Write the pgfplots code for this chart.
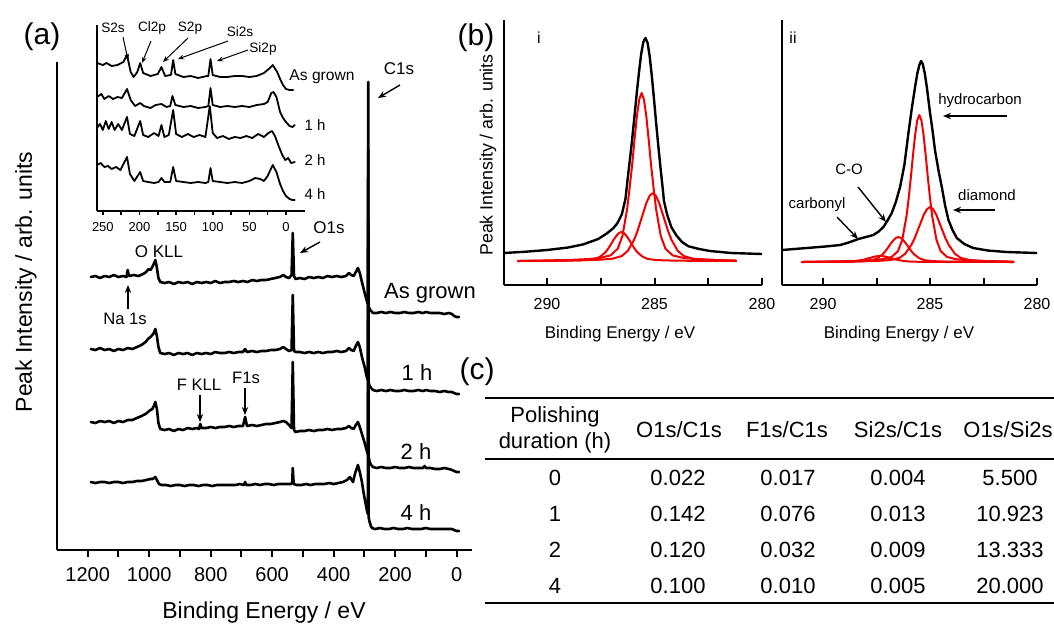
\documentclass[border=0pt]{standalone}
\usepackage{pgfplots}
\pgfplotsset{compat=1.18}
\usepackage{fontspec}
\setmainfont{Liberation Sans}
\usetikzlibrary{arrows.meta}
\newcommand{\fs}[1]{\fontsize{#1}{#1}\selectfont}
\definecolor{fitred}{RGB}{240,0,0}
\pgfplotsset{
  base/.style={scale only axis, x dir=reverse,
    axis x line*=bottom, axis y line*=left,
    axis line style={line width=1.2pt,-},
    ytick=\empty, tick style={black,line width=1pt},
    /pgf/number format/assume math mode=true, /pgf/number format/1000 sep={},
    every axis plot/.append style={line join=round, line cap=round}},
}
\begin{document}
\begin{tikzpicture}
\useasboundingbox (0,0) rectangle (527pt,-311.5pt);
% ---------------- panel (a) main
\begin{axis}[base, at={(28.5pt,-275pt)}, anchor=south west,
  width=207.5pt, height=244pt, xmin=-50, xmax=1300, ymin=0, ymax=488,
  xtick={0,200,...,1200}, minor xtick={100,300,...,1100},
  tick align=outside, major tick length=3.5pt, minor tick length=3.5pt,
  xticklabel style={font=\fs{10}, yshift=-1.5pt}]
\addplot[black, no markers, line width=1.3pt] coordinates {(1190,273) (1175,274) (1160,272) (1145,274) (1130,273) (1115,275) (1100,273) (1085,274) (1074,273) (1070,280) (1066,274) (1050,275) (1035,274) (1020,276) (1010,278) (1002,281) (996,280) (990,283) (984,287) (980,290) (976,284) (970,272) (964,268) (950,267) (935,268) (920,266) (905,268) (890,267) (875,268) (860,266) (845,268) (830,267) (815,268) (800,267) (785,269) (770,267) (755,268) (740,268) (725,269) (710,268) (695,269) (680,268) (665,270) (650,269) (635,270) (620,270) (605,271) (590,272) (575,273) (564,275) (555,273) (545,272) (537,275) (533,317) (529,274) (524,271) (510,272) (495,271) (480,273) (465,272) (450,273) (435,272) (420,274) (405,273) (390,274) (375,273) (360,274) (350,277) (343,275) (335,274) (328,278) (321,282) (315,277) (308,268) (300,258) (293,250) (289,246) (287.5,468) (286.5,244) (283,241) (278,239) (272,237) (260,237) (245,238) (230,237) (215,238) (200,237) (185,237) (170,238) (155,237) (140,237) (125,238) (110,237) (100,238) (85,237) (70,237) (55,237) (40,236) (25,237) (15,236) (8,234) (0,233) (-8,233)};
\addplot[black, no markers, line width=1.3pt] coordinates {(1190,201) (1175,200) (1160,202) (1145,200) (1130,201) (1115,199) (1100,201) (1085,200) (1070,202) (1055,201) (1040,203) (1025,205) (1012,208) (1004,211) (996,213) (990,215) (985,217) (980,221) (975,214) (970,203) (964,197) (950,196) (935,197) (920,195) (905,197) (890,196) (875,197) (860,195) (845,197) (830,196) (815,197) (800,196) (785,198) (770,197) (755,197) (740,198) (725,197) (710,198) (695,198) (688,201) (682,198) (665,199) (650,198) (635,199) (620,199) (605,200) (590,200) (575,201) (564,203) (555,201) (545,199) (537,200) (533,255) (529,199) (524,198) (510,198) (495,197) (480,198) (465,197) (450,198) (435,197) (420,198) (405,198) (390,199) (375,198) (360,199) (350,202) (343,200) (335,199) (328,204) (321,208) (315,203) (308,193) (300,184) (293,174) (289,170) (287.5,400) (286.5,168) (283,164) (278,162) (272,160) (260,159) (245,160) (230,159) (215,160) (200,159) (185,159) (170,160) (155,159) (140,159) (125,160) (110,159) (100,160) (85,159) (70,159) (55,158) (40,159) (25,158) (15,158) (8,157) (0,156) (-8,156)};
\addplot[black, no markers, line width=1.3pt] coordinates {(1190,128) (1175,127) (1160,129) (1145,128) (1130,129) (1115,127) (1100,129) (1085,128) (1070,130) (1055,130) (1040,132) (1025,134) (1012,136) (1004,138) (996,140) (990,141) (985,144) (980,148) (975,141) (970,127) (964,121) (950,120) (935,121) (920,119) (905,121) (890,120) (875,122) (860,121) (845,122) (838,121) (834,126) (830,122) (815,122) (800,123) (785,122) (770,123) (755,123) (740,124) (725,123) (710,124) (695,124) (688,133) (682,124) (665,125) (650,124) (635,125) (620,126) (605,126) (590,127) (575,128) (564,129) (555,128) (545,125) (537,122) (533,188) (529,120) (524,118) (510,119) (495,119) (480,120) (465,119) (450,120) (435,120) (420,121) (405,120) (390,121) (375,121) (360,122) (350,124) (343,122) (335,121) (328,125) (321,128) (315,123) (308,116) (300,108) (293,100) (289,96) (287.5,330) (286.5,94) (283,88) (278,85) (272,83) (260,82) (245,83) (230,82) (215,82) (200,83) (185,82) (170,82) (155,83) (140,82) (125,82) (110,82) (104,84) (100,82) (85,82) (70,81) (55,81) (40,82) (25,81) (15,80) (8,79) (0,78) (-8,78)};
\addplot[black, no markers, line width=1.3pt] coordinates {(1190,68) (1175,67) (1160,68) (1145,68) (1130,67) (1115,68) (1100,68) (1085,67) (1070,68) (1055,68) (1040,69) (1025,69) (1010,70) (996,71) (990,71) (984,72) (980,73) (975,70) (968,66) (960,65) (945,65) (930,64) (915,65) (900,65) (885,64) (870,65) (855,65) (840,64) (825,65) (810,65) (795,64) (780,65) (765,65) (750,65) (735,65) (720,65) (705,66) (692,65) (688,68) (684,65) (670,65) (655,66) (640,65) (625,66) (610,66) (595,65) (580,66) (565,66) (550,66) (540,66) (535,67) (533,82) (530,66) (520,65) (505,65) (490,66) (475,65) (460,66) (445,66) (430,66) (415,67) (400,66) (385,67) (370,68) (357,70) (347,73) (337,68) (330,77) (321,85) (315,78) (308,68) (303,58) (297,48) (292,40) (289,36) (287.5,250) (286.5,33) (283,28) (279,24) (275,22) (265,21) (250,22) (235,21) (220,21) (205,22) (190,21) (175,21) (160,22) (145,21) (130,21) (115,21) (100,22) (85,21) (70,21) (55,21) (40,21) (25,21) (15,21) (8,20) (0,19) (-8,19)};
\end{axis}
% ---------------- inset
\begin{axis}[base, at={(48.5pt,-105.5pt)}, anchor=south west,
  width=104pt, height=93pt, xmin=-26, xmax=258, ymin=0, ymax=186,
  axis line style={line width=1pt,-},
  xtick={0,50,...,250}, minor xtick={25,75,...,225},
  tick align=outside, major tick length=2pt, minor tick length=2pt,
  tick style={black,line width=0.8pt},
  xticklabel style={font=\fs{6.5}}]
\addplot[black, no markers, line width=0.9pt] coordinates {(258,148) (250,146) (245,148) (238,145) (230,146) (222,149) (217,156) (212,139) (208,134) (203,139) (199,148) (195,138) (185,135) (175,137) (170,144) (165,135) (158,136) (157,136) (154,151) (151,137) (140,134) (130,135) (120,133) (108,135) (106,135) (103,152) (100,136) (90,134) (80,134) (70,135) (60,135) (50,134) (40,135) (30,138) (22,143) (18,146) (12,139) (8,132) (4,126) (0,122) (-5,121) (-10,121)};
\addplot[black, no markers, line width=0.9pt] coordinates {(258,114) (252,117) (248,112) (242,115) (236,112) (230,114) (224,113) (217,122) (212,111) (206,105) (199,108) (194,105) (185,103) (178,106) (170,107) (163,104) (158,105) (155,115) (151,106) (140,104) (130,105) (120,103) (110,104) (106,105) (103,123) (100,106) (90,104) (80,105) (70,104) (60,105) (50,104) (40,106) (30,107) (25,109) (20,118) (17,119) (13,114) (8,99) (4,93) (0,89) (-5,85) (-9,84) (-12,86)};
\addplot[black, no markers, line width=0.9pt] coordinates {(258,83) (254,87) (250,81) (246,90) (242,82) (238,89) (234,81) (229,87) (224,81) (217,94) (213,77) (207,75) (199,90) (195,76) (188,74) (180,78) (174,75) (170,86) (166,74) (160,76) (154,101) (150,77) (142,74) (134,77) (126,74) (118,76) (110,74) (104,105) (100,78) (94,73) (86,75) (78,72) (70,74) (62,73) (54,75) (46,73) (38,77) (30,74) (24,78) (19,80) (15,75) (10,65) (5,56) (1,51) (-3,53) (-7,48) (-12,49)};
\addplot[black, no markers, line width=0.9pt] coordinates {(258,46) (253,48) (248,44) (243,45) (238,42) (232,44) (226,41) (217,54) (213,37) (207,30) (199,39) (195,30) (188,29) (180,28) (174,29) (170,33) (166,29) (158,29) (154,44) (150,30) (140,29) (130,28) (120,29) (110,28) (106,29) (103,43) (100,30) (90,29) (80,28) (70,29) (60,28) (50,30) (42,33) (35,32) (30,30) (25,35) (20,43) (18,46) (13,39) (8,27) (4,20) (0,15) (-5,12) (-9,11) (-12,11)};
\end{axis}
% ---------------- panel (b) i
\begin{axis}[base, at={(252pt,-142.5pt)}, anchor=south west,
  width=129pt, height=132.5pt, xmin=280, xmax=292, ymin=0, ymax=265,
  xtick={280,285,290}, minor xtick={282.5,287.5},
  tick align=inside, major tick length=3.5pt, minor tick length=3.5pt,
  xticklabel style={font=\fs{8}, yshift=-3pt}]
\addplot[fitred, no markers, line width=1pt] coordinates {(281.2,24) (282.27,25.1) (283.16,26) (283.71,27.3) (284.16,29.7) (284.49,36.3) (284.71,49.2) (284.93,76.4) (285.04,96.6) (285.16,120.1) (285.27,145.3) (285.38,168.6) (285.49,185.6) (285.6,192) (285.71,185.6) (285.82,168.6) (285.93,145.3) (286.04,120.1) (286.16,96.6) (286.27,76.4) (286.49,49.2) (286.71,36.3) (287.04,29.7) (287.49,27.3) (288.04,26) (288.93,25.1) (291.34,24)};
\addplot[fitred, no markers, line width=1pt] coordinates {(281.2,24.5) (281.90,24.8) (282.62,25.3) (283.20,26.3) (283.64,29) (283.92,34.2) (284.21,45.2) (284.36,53.4) (284.50,62.9) (284.65,73.1) (284.79,82.5) (284.94,89.4) (285.08,92) (285.22,89.4) (285.37,82.5) (285.51,73.1) (285.66,62.9) (285.80,53.4) (285.95,45.2) (286.24,34.2) (286.52,29) (286.96,26.3) (287.54,25.3) (288.26,24.8) (289.41,24.4) (291.34,24)};
\addplot[fitred, no markers, line width=1pt] coordinates {(281.2,24) (282.87,24.2) (283.85,24.3) (284.46,24.6) (284.95,25) (285.32,26.1) (285.56,28.4) (285.81,33) (285.93,36.5) (286.05,40.6) (286.17,44.9) (286.30,49) (286.42,51.9) (286.54,53) (286.66,51.9) (286.78,49) (286.91,44.9) (287.03,40.6) (287.15,36.5) (287.27,33) (287.52,28.4) (287.76,26.1) (288.13,25) (288.62,24.6) (289.23,24.3) (290.21,24.2) (291.34,24)};
\addplot[black, no markers, line width=1.2pt] coordinates {(280,31) (281.42,32) (282.42,34) (282.92,36) (283.42,38.7) (283.72,43) (283.98,49.5) (284.22,58) (284.42,71) (284.56,84) (284.62,97) (284.72,117) (284.82,138.5) (284.92,161) (285.02,185) (285.12,208) (285.22,228) (285.32,242) (285.42,247) (285.52,243) (285.62,231) (285.72,213) (285.82,193) (285.92,171) (286.07,139.5) (286.22,111.5) (286.35,86) (286.52,70.7) (286.72,62) (286.92,56.7) (287.23,51.4) (287.62,46) (288.32,40.6) (289.02,37.5) (290,35) (291,33.3) (292,32)};
\end{axis}
% ---------------- panel (b) ii
\begin{axis}[base, at={(391pt,-142.5pt)}, anchor=south west,
  width=127.5pt, height=132.5pt, xmin=280, xmax=291.92, ymin=0, ymax=265,
  xtick={280,285,290}, minor xtick={282.5,287.5},
  tick align=inside, major tick length=3.5pt, minor tick length=3.5pt,
  xticklabel style={font=\fs{8}, yshift=-3pt}]
\addplot[fitred, no markers, line width=1pt] coordinates {(281.1,23) (282.5,24) (283.3,24.8) (283.8,25.9) (284.2,28) (284.5,33.8) (284.7,45.1) (284.9,68.9) (285.0,86.5) (285.1,107.1) (285.2,129.1) (285.3,149.6) (285.4,164.4) (285.5,170) (285.6,164.4) (285.7,149.6) (285.8,129.1) (285.9,107.1) (286.0,86.5) (286.1,68.9) (286.3,45.1) (286.5,33.8) (286.8,28) (287.2,25.9) (287.7,24.8) (288.5,24) (290.98,23)};
\addplot[fitred, no markers, line width=1pt] coordinates {(281.1,23.4) (281.82,23.7) (282.54,24.1) (283.12,24.9) (283.56,27) (283.84,31.3) (284.13,40.2) (284.28,46.8) (284.42,54.5) (284.57,62.7) (284.71,70.4) (284.86,75.9) (285.0,78) (285.14,75.9) (285.29,70.4) (285.43,62.7) (285.58,54.5) (285.72,46.8) (285.87,40.2) (286.16,31.3) (286.44,27) (286.88,24.9) (287.46,24.1) (288.18,23.7) (289.33,23.4) (290.98,23)};
\addplot[fitred, no markers, line width=1pt] coordinates {(281.1,23) (282.81,23.2) (283.79,23.3) (284.40,23.5) (284.89,23.9) (285.26,24.8) (285.50,26.75) (285.75,30.8) (285.87,33.8) (285.99,37.3) (286.11,41.1) (286.24,44.5) (286.36,47) (286.48,48) (286.60,47) (286.72,44.5) (286.85,41.1) (286.97,37.3) (287.09,33.8) (287.21,30.8) (287.46,26.75) (287.70,24.8) (288.07,23.9) (288.56,23.5) (289.17,23.3) (290.15,23.2) (290.98,23)};
\addplot[fitred, no markers, line width=1pt] coordinates {(281.1,23) (285.46,23.2) (285.90,23.4) (286.18,23.9) (286.47,24.9) (286.62,25.6) (286.76,26.4) (286.91,27.3) (287.05,28.2) (287.20,28.8) (287.34,29) (287.48,28.8) (287.63,28.2) (287.77,27.3) (287.92,26.4) (288.06,25.6) (288.21,24.9) (288.50,23.9) (288.78,23.4) (289.22,23.2) (290.98,23)};
\addplot[black, no markers, line width=1.2pt] coordinates {(280,32) (281.42,33) (282.3,34.5) (282.98,37) (283.4,41) (283.75,47) (283.95,55) (284.14,65) (284.3,80) (284.45,98) (284.6,114) (284.77,135) (284.88,154) (285.0,172) (285.15,198) (285.25,212) (285.34,221) (285.42,224) (285.5,220) (285.6,211) (285.7,198) (285.85,177) (286.01,152) (286.2,120) (286.4,98) (286.6,83) (286.79,72) (287.0,64) (287.18,58) (287.4,53.5) (287.65,50) (288.35,46) (288.8,42.5) (289.2,40) (289.9,38.5) (290.76,37) (291.92,35)};
\end{axis}
% ---------------- annotations in pixel units
\begin{scope}[x=0.5pt,y=-0.5pt]
\tikzset{arr/.style={-{Stealth[length=4pt,width=3.2pt]}, line width=0.7pt},
         sarr/.style={-{Stealth[length=3pt,width=2.4pt]}, line width=0.5pt}}
% panel labels
\node[font=\fs{15}] at (42,37) {(a)};
\node[font=\fs{15}] at (476,38) {(b)};
\node[font=\fs{15}] at (477,372) {(c)};
% (a) axis labels
\node[font=\fs{11.5}, anchor=base] at (264,618) {Binding Energy / eV};
\node[font=\fs{11.5}, rotate=90] at (26,282) {Peak Intensity / arb. units};
% (a) annotations
\node[font=\fs{8.5}] at (399,69) {C1s};
\draw[arr] (400,85) -- (378,98);
\node[font=\fs{8.5}] at (329,228) {O1s};
\draw[arr] (320,242) -- (300,253);
\node[font=\fs{8.5}] at (159,252) {O KLL};
\node[font=\fs{8.3}] at (125,319) {Na 1s};
\draw[arr] (128,309) -- (128,285);
\node[font=\fs{8.3}] at (199,385) {F KLL};
\draw[arr] (200,395) -- (200,422);
\node[font=\fs{8.3}] at (246,378) {F1s};
\draw[arr] (245,388) -- (245,415);
\node[font=\fs{11}] at (430,293) {As grown};
\node[font=\fs{11}] at (417,373) {1 h};
\node[font=\fs{11}] at (416,452) {2 h};
\node[font=\fs{11}] at (416,513) {4 h};
% inset annotations
\node[font=\fs{6.8}] at (113,28) {S2s};
\node[font=\fs{6.8}] at (152,28) {Cl2p};
\node[font=\fs{6.8}] at (190,28) {S2p};
\node[font=\fs{6.8}] at (240,32) {Si2s};
\node[font=\fs{6.8}] at (263,49) {Si2p};
\draw[sarr] (123,37) -- (128,60);
\draw[sarr] (151,41) -- (142,63);
\draw[sarr] (188,38) -- (163,62);
\draw[sarr] (228,41) -- (178,59);
\draw[sarr] (248,50) -- (217,61);
\node[font=\fs{7.8}] at (322,77) {As grown};
\node[font=\fs{7.5}] at (315,125) {1 h};
\node[font=\fs{7.5}] at (315,160) {2 h};
\node[font=\fs{7.5}] at (315,194) {4 h};
% (b) labels
\node[font=\fs{8.5}, anchor=base] at (620,338) {Binding Energy / eV};
\node[font=\fs{8.5}, anchor=base] at (899,338) {Binding Energy / eV};
\node[font=\fs{8.9}, rotate=90] at (488,155) {Peak Intensity / arb. units};
\node[font=\fs{8}] at (539,38) {i};
\node[font=\fs{8}] at (793,38) {ii};
\node[font=\fs{7.5}] at (980,101) {hydrocarbon};
\draw[arr] (1007,116) -- (943,116);
\node[font=\fs{7.5}] at (987,195) {diamond};
\draw[arr] (995,210) -- (953,210);
\node[font=\fs{7.5}] at (849,169) {C-O};
\draw[arr] (858,187) -- (886,222);
\node[font=\fs{7.5}] at (817,205) {carbonyl};
\draw[arr] (837,217) -- (858,239);
% (c) table
\draw[line width=1pt] (485,398) -- (1054,398);
\draw[line width=1pt] (485,459) -- (1054,459);
\draw[line width=1pt] (485,603) -- (1054,603);
\begin{scope}[every node/.style={font=\fs{11}}]
\node at (555,417) {Polishing};
\node at (555,443) {duration (h)};
\node at (679,430) {O1s/C1s};
\node at (787,430) {F1s/C1s};
\node at (898,430) {Si2s/C1s};
\node at (1008,430) {O1s/Si2s};
\node at (555,478) {0};   \node at (678,478) {0.022}; \node at (788,478) {0.017}; \node at (898,478) {0.004}; \node at (1010,478) {5.500};
\node at (555,514) {1};   \node at (678,514) {0.142}; \node at (788,514) {0.076}; \node at (898,514) {0.013}; \node at (1010,514) {10.923};
\node at (555,550) {2};   \node at (678,550) {0.120}; \node at (788,550) {0.032}; \node at (898,550) {0.009}; \node at (1010,550) {13.333};
\node at (555,586) {4};   \node at (678,586) {0.100}; \node at (788,586) {0.010}; \node at (898,586) {0.005}; \node at (1010,586) {20.000};
\end{scope}
\end{scope}
\end{tikzpicture}
\end{document}
